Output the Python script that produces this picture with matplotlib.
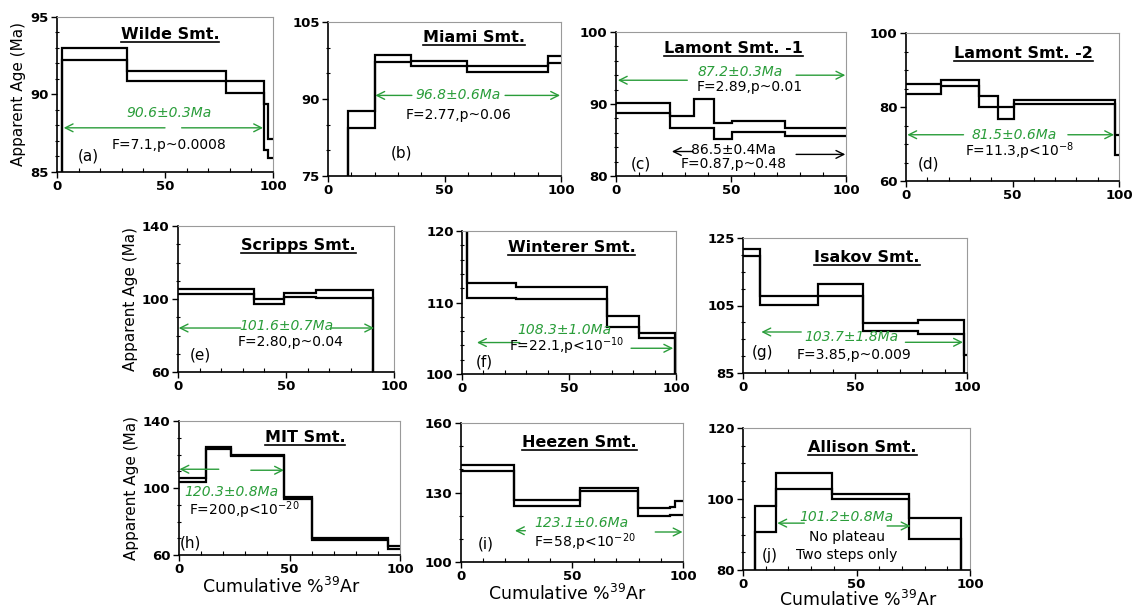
import matplotlib
matplotlib.use("Agg")
import matplotlib.pyplot as plt
from matplotlib.lines import Line2D
from matplotlib.ticker import MultipleLocator

# --- step-heating spectra: cumulative %39Ar edges, upper / lower age (Ma) of each step ---
wilde_edges = [0, 2.3, 32.6, 78.2, 95.7, 97.8, 100]
wilde_hi = [80.0, 93.0, 91.5, 90.9, 89.4, 87.1]
wilde_lo = [79.0, 92.2, 90.9, 90.1, 86.4, 85.9]

miami_edges = [0, 8.6, 20.1, 35.8, 59.5, 94.3, 100]
miami_hi = [60.0, 87.6, 98.5, 97.5, 96.5, 98.3]
miami_lo = [58.0, 84.3, 97.3, 96.4, 95.2, 97.0]

lam1_edges = [0, 23.3, 33.7, 42.8, 50.6, 73.5, 100]
lam1_hi = [90.1, 88.4, 90.7, 87.4, 87.7, 86.7]
lam1_lo = [88.7, 86.7, 86.7, 85.2, 86.1, 85.5]

lam2_edges = [0, 16.3, 34.4, 43.3, 50.6, 98.0, 100]
lam2_hi = [86.3, 87.2, 83.0, 80.0, 82.0, 72.3]
lam2_lo = [83.6, 85.7, 80.0, 76.8, 80.9, 67.1]

scripps_edges = [0, 35.2, 49.1, 63.7, 90.3, 100]
scripps_hi = [105.6, 100.1, 103.5, 105.0, 50.0]
scripps_lo = [102.8, 97.2, 100.9, 100.6, 48.0]

wint_edges = [0, 2.5, 25.0, 67.9, 82.8, 99.7, 100]
wint_hi = [130.0, 112.7, 112.1, 108.1, 105.7, 95.0]
wint_lo = [128.0, 110.6, 110.5, 106.6, 105.0, 94.0]

isak_edges = [0, 7.4, 33.5, 53.4, 78.1, 98.5, 100]
isak_hi = [121.7, 107.7, 111.5, 99.8, 100.6, 90.4]
isak_lo = [119.6, 105.1, 107.7, 97.5, 96.6, 80.0]

mit_edges = [0, 12.2, 23.4, 47.7, 60.3, 94.7, 100]
mit_hi = [105.7, 124.5, 119.6, 94.8, 70.0, 65.6]
mit_lo = [103.7, 123.1, 118.9, 93.4, 69.0, 63.8]

heez_edges = [0, 24.0, 53.5, 79.8, 94.0, 96.3, 100]
heez_hi = [142.0, 126.9, 131.9, 123.3, 123.6, 126.5]
heez_lo = [139.1, 124.0, 130.5, 119.7, 120.4, 120.4]

alli_edges = [0, 5.1, 14.7, 39.0, 73.2, 95.9, 100]
alli_hi = [70.0, 98.1, 107.3, 101.4, 94.6, 70.0]
alli_lo = [68.0, 90.8, 102.9, 100.0, 88.8, 68.0]

names = ["Wilde Smt.", "Miami Smt.", "Lamont Smt. -1", "Lamont Smt. -2", "Scripps Smt.",
         "Winterer Smt.", "Isakov Smt.", "MIT Smt.", "Heezen Smt.", "Allison Smt."]
plateaus = ["90.6±0.3Ma", "96.8±0.6Ma", "87.2±0.3Ma", "81.5±0.6Ma", "101.6±0.7Ma",
            "108.3±1.0Ma", "103.7±1.8Ma", "120.3±0.8Ma", "123.1±0.6Ma", "101.2±0.8Ma"]
stats = ["F=7.1,p~0.0008", "F=2.77,p~0.06", "F=2.89,p~0.01", "F=11.3,p<10$^{-8}$",
         "F=2.80,p~0.04", "F=22.1,p<10$^{-10}$", "F=3.85,p~0.009", "F=200,p<10$^{-20}$",
         "F=58,p<10$^{-20}$", "No plateau\nTwo steps only"]
letters = ["(a)", "(b)", "(c)", "(d)", "(e)", "(f)", "(g)", "(h)", "(i)", "(j)"]

GREEN = "#2a9d3a"
W, H = 1133, 611

fig = plt.figure(figsize=(W / 100, H / 100), dpi=100)

# rect in pixels (left, top, right, bottom), y ticks, minor step, title pos (axes frac)
panels = [
    dict(rect=(57, 17, 273, 172), d=(wilde_edges, wilde_hi, wilde_lo), yt=[85, 90, 95], mn=1,
         tpos=(0.523, 0.856), ptxt=(52, 88.8), stxt=(52, 86.75), lpos=(14.6, 86.0),
         arrows=[(50, 3.1, 87.85), (57.7, 95.4, 87.85)], ylabel=True),
    dict(rect=(328, 22, 561, 176), d=(miami_edges, miami_hi, miami_lo), yt=[75, 90, 105], mn=5,
         tpos=(0.627, 0.872), ptxt=(56, 90.7), stxt=(56, 86.9), lpos=(31.5, 79.4),
         arrows=[(36, 20.3, 90.7), (76, 99.6, 90.7)]),
    dict(rect=(616, 32, 846, 176), d=(lam1_edges, lam1_hi, lam1_lo), yt=[80, 90, 100], mn=2,
         tpos=(0.511, 0.852), ptxt=(54, 94.4), stxt=(58, 92.3), lpos=(10.6, 81.7),
         arrows=[(31, 0.8, 93.3), (78.3, 99.7, 94.0)]),
    dict(rect=(906, 33, 1119, 181), d=(lam2_edges, lam2_hi, lam2_lo), yt=[60, 80, 100], mn=5,
         tpos=(0.55, 0.829), ptxt=(51, 72.5), stxt=(53, 68.0), lpos=(10.5, 64.5),
         arrows=[(27, 0.6, 72.5), (76, 97.7, 72.5)]),
    dict(rect=(178, 226, 394, 372), d=(scripps_edges, scripps_hi, scripps_lo), yt=[60, 100, 140], mn=10,
         tpos=(0.557, 0.836), ptxt=(50.3, 85.0), stxt=(52, 76.2), lpos=(10.3, 69.5),
         arrows=[(29, 0.3, 84.1), (71, 90.8, 84.1)], ylabel=True),
    dict(rect=(462, 231, 676, 374), d=(wint_edges, wint_hi, wint_lo), yt=[100, 110, 120], mn=2,
         tpos=(0.512, 0.855), ptxt=(48, 106.2), stxt=(49, 103.9), lpos=(10.6, 101.7),
         arrows=[(27, 7.0, 104.4), (79, 98.7, 103.6)]),
    dict(rect=(743, 238, 967, 373), d=(isak_edges, isak_hi, isak_lo), yt=[85, 105, 125], mn=5,
         tpos=(0.554, 0.824), ptxt=(48.2, 95.6), stxt=(49.4, 90.4), lpos=(8.9, 91.1),
         arrows=[(26, 8.2, 97.15), (72.5, 98.2, 94.1)]),
    dict(rect=(179, 421, 400, 555), d=(mit_edges, mit_hi, mit_lo), yt=[60, 100, 140], mn=10,
         tpos=(0.57, 0.845), ptxt=(2.3, 97.6), stxt=(4.7, 86.8), lpos=(5.0, 67.4),
         arrows=[(18, 0.2, 111.2), (32.5, 47.5, 110.6)], ylabel=True, left=True),
    dict(rect=(461, 423, 683, 562), d=(heez_edges, heez_hi, heez_lo), yt=[100, 130, 160], mn=10,
         tpos=(0.535, 0.825), ptxt=(54.3, 116.8), stxt=(55.8, 108.6), lpos=(11.2, 107.9),
         arrows=[(29, 24.3, 113.5), (87.5, 99.8, 112.95)]),
    dict(rect=(743, 428, 970, 570), d=(alli_edges, alli_hi, alli_lo), yt=[80, 100, 120], mn=5,
         tpos=(0.526, 0.833), ptxt=(45.6, 94.8), stxt=(45.6, 86.8), lpos=(11.8, 84.2),
         arrows=[(27, 15.1, 93.2), (63.5, 73.8, 92.4)]),
]

titles = []
for i, p in enumerate(panels):
    l, t, r, b = p["rect"]
    ax = fig.add_axes([l / W, 1 - b / H, (r - l) / W, (b - t) / H])
    edges, hi, lo = p["d"]
    ax.stairs(hi, edges, baseline=None, color="black", lw=1.6)
    ax.stairs(lo, edges, baseline=None, color="black", lw=1.6)

    ax.set_xlim(0, 100)
    ax.set_ylim(p["yt"][0], p["yt"][-1])
    ax.set_xticks([0, 50, 100])
    ax.xaxis.set_minor_locator(MultipleLocator(10))
    ax.set_yticks(p["yt"])
    ax.yaxis.set_minor_locator(MultipleLocator(p["mn"]))
    ax.tick_params(which="major", direction="out", length=4, width=1, labelsize=9.5, pad=2)
    ax.tick_params(axis="x", which="minor", direction="in", length=3, width=0.8)
    ax.tick_params(axis="y", which="minor", direction="inout", length=3, width=0.8)
    for lab in ax.get_xticklabels() + ax.get_yticklabels():
        lab.set_fontweight("bold")
    for s in ("top", "right"):
        ax.spines[s].set_color("#9a9a9a")
    for s in ("left", "bottom"):
        ax.spines[s].set_linewidth(1.2)

    # plateau arrows
    (xa, xb, ya), (xc, xd, yc) = p["arrows"]
    ax.annotate("", xy=(xb, ya), xytext=(xa, ya),
                arrowprops=dict(arrowstyle="->", color=GREEN, lw=1, shrinkA=0, shrinkB=0, mutation_scale=14))
    ax.annotate("", xy=(xd, yc), xytext=(xc, yc),
                arrowprops=dict(arrowstyle="->", color=GREEN, lw=1, shrinkA=0, shrinkB=0, mutation_scale=14))

    ha = "left" if p.get("left") else "center"
    ax.text(*p["ptxt"], plateaus[i], color=GREEN, style="italic", fontsize=10, ha=ha, va="center")
    ax.text(*p["stxt"], stats[i], color="black", fontsize=10, ha=ha, va="center",
            linespacing=1.3)
    ax.text(*p["lpos"], letters[i], fontsize=11, ha="center", va="center")
    tt = ax.text(*p["tpos"], names[i], transform=ax.transAxes, fontsize=11.5, fontweight="bold",
                 ha="center", va="baseline")
    titles.append(tt)

    if p.get("ylabel"):
        ax.set_ylabel("Apparent Age (Ma)", fontsize=11, labelpad=3)

# second plateau for Lamont Smt. -1 (black)
ax_c = fig.axes[2]
ax_c.text(51, 83.6, "86.5±0.4Ma", fontsize=10, ha="center", va="center")
ax_c.text(51, 81.7, "F=0.87,p~0.48", fontsize=10, ha="center", va="center")
ax_c.annotate("", xy=(24.3, 83.4), xytext=(33.5, 83.4),
              arrowprops=dict(arrowstyle="->", color="black", lw=1, shrinkA=0, shrinkB=0, mutation_scale=14))
ax_c.annotate("", xy=(99.7, 83.0), xytext=(78.3, 83.0),
              arrowprops=dict(arrowstyle="->", color="black", lw=1, shrinkA=0, shrinkB=0, mutation_scale=14))

# x labels under bottom row
for xc, yc in [(281, 587), (567, 594), (858, 600)]:
    fig.text(xc / W, 1 - yc / H, "Cumulative %$^{39}$Ar", fontsize=12.5, ha="center", va="center")

# underline the seamount names
fig.canvas.draw()
rend = fig.canvas.get_renderer()
inv = fig.transFigure.inverted()
for tt in titles:
    bb = tt.get_window_extent(rend)
    xb, yb = tt.get_transform().transform(tt.get_position())
    (x0, y0), (x1, _) = inv.transform([(bb.x0, yb - 3), (bb.x1, yb - 3)])
    fig.add_artist(Line2D([x0, x1], [y0, y0], transform=fig.transFigure, color="black", lw=1.2))

fig.savefig("out.png", dpi=100)
